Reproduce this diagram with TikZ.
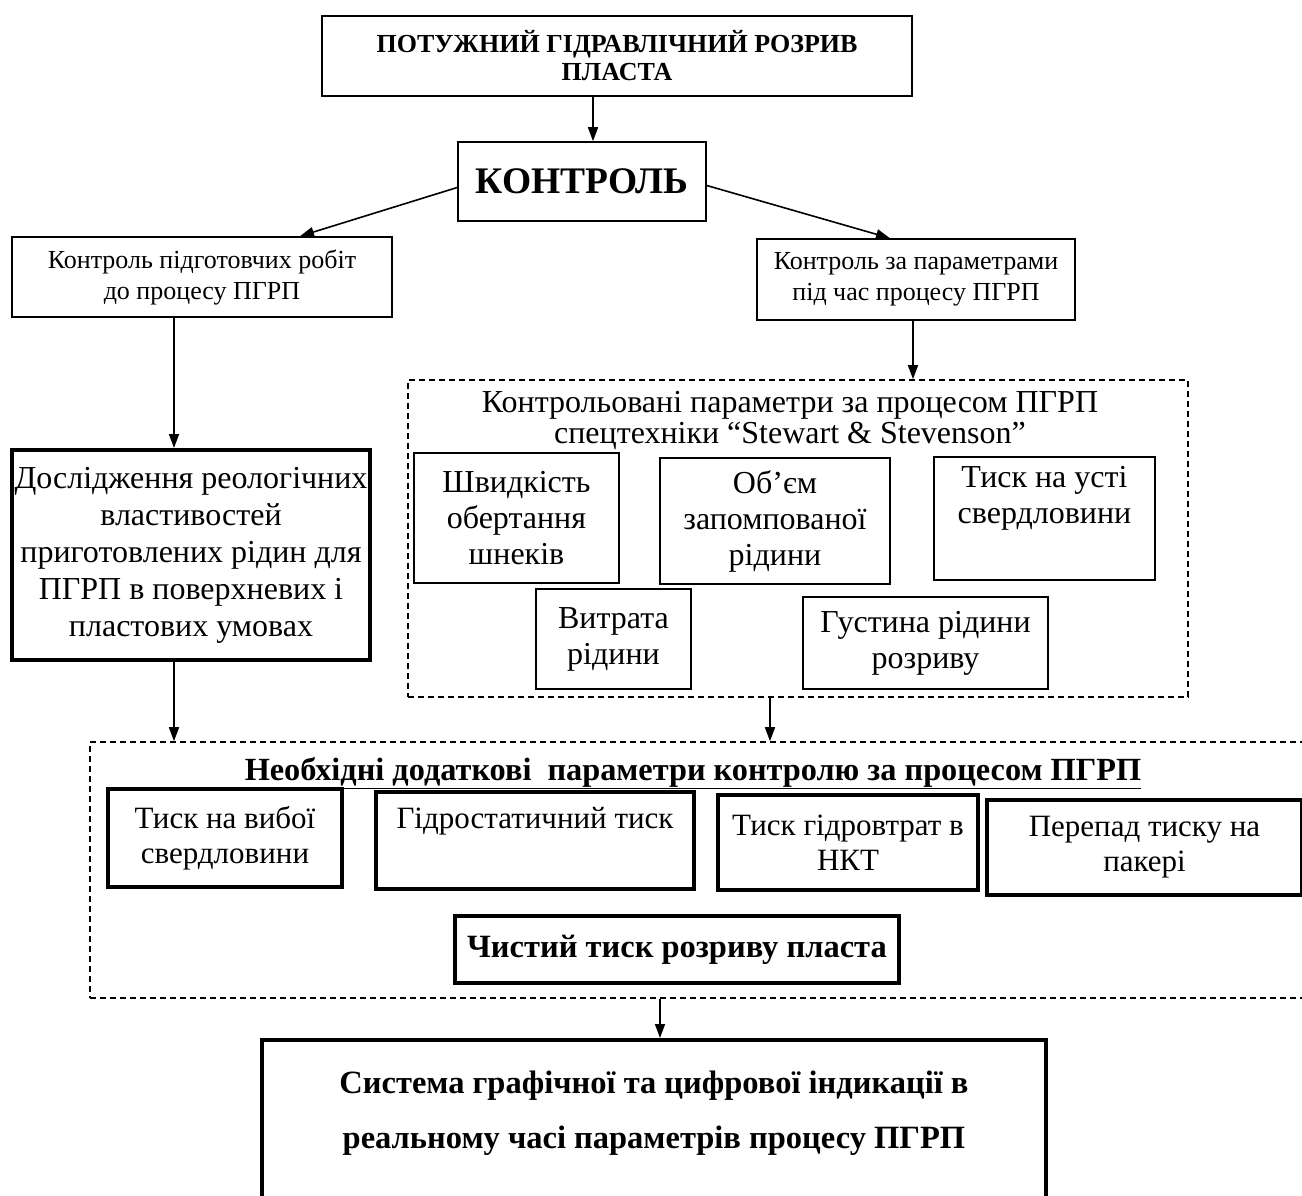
\documentclass[tikz,border=0pt]{standalone}
\usepackage{fontspec}
\setmainfont{Liberation Serif}
\usetikzlibrary{arrows.meta}
\begin{document}
\begin{tikzpicture}[x=1pt,y=-1pt,
  box/.style={draw,line width=1.6pt,align=center,inner sep=0pt},
  tbox/.style={box,line width=4pt},
  mbox/.style={box,line width=2.2pt},
  dbox/.style={draw,line width=1.6pt,dash pattern=on 6pt off 4pt,inner sep=0pt},
  txt/.style={align=center,inner sep=0pt},
  arr/.style={line width=1.6pt,-{Triangle[length=14pt,width=10pt]}},
  fA/.style={font=\fontsize{26}{28}\selectfont\bfseries},
  fK/.style={font=\fontsize{37.5}{40}\selectfont\bfseries},
  fS/.style={font=\fontsize{26}{31}\selectfont},
  fR/.style={font=\fontsize{32}{37}\selectfont},
  fT/.style={font=\fontsize{32}{31}\selectfont},
  fI/.style={font=\fontsize{32}{36}\selectfont},
  fB/.style={font=\fontsize{32.3}{35}\selectfont\bfseries},
  fC/.style={font=\fontsize{32.5}{35}\selectfont\bfseries},
  fD/.style={font=\fontsize{31}{35}\selectfont},
  fE/.style={font=\fontsize{32.5}{55}\selectfont\bfseries}]
\useasboundingbox (0,0) rectangle (1302,1196);
\clip (0,0) rectangle (1302,1196);
\fill[white] (0,0) rectangle (1302,1196);

% top
\node[box,fA,minimum width=590,minimum height=80] (top) at (617,56)
  {ПОТУЖНИЙ ГІДРАВЛІЧНИЙ РОЗРИВ\\ПЛАСТА};
\node[box,fK,minimum width=248,minimum height=79] (kon) at (582,181.5) {КОНТРОЛЬ};
\node[box,fS,minimum width=380,minimum height=80] (lft) at (202,277)
  {Контроль підготовчих робіт\\до процесу ПГРП};
\node[box,fS,minimum width=318,minimum height=81] (rgt) at (916,279.5)
  {Контроль за параметрами\\під час процесу ПГРП};
\node[tbox,fR,minimum width=358,minimum height=210] (res) at (191,555)
  {Дослідження реологічних\\властивостей\\приготовлених рідин для\\ПГРП в поверхневих і\\пластових умовах};

% dashed box 1
\node[dbox,minimum width=780,minimum height=317] (d1) at (798,538.5) {};
\node[txt,fT] (d1t) at (790,420)
  {Контрольовані параметри за процесом ПГРП\\спецтехніки “Stewart \& Stevenson”};
\node[mbox,fI,minimum width=205,minimum height=130] (sw) at (516.5,518)
  {Швидкість\\обертання\\шнеків};
\node[mbox,fI,minimum width=230,minimum height=126] (ob) at (775,521)
  {Об’єм\\запомпованої\\рідини};
\node[mbox,fI,minimum width=221,minimum height=123] (ty) at (1044.5,518.5)
  {Тиск на усті\\свердловини\\\strut};
\node[mbox,fI,minimum width=155,minimum height=100] (vy) at (613.5,639)
  {Витрата\\рідини};
\node[mbox,fI,minimum width=245,minimum height=92] (gu) at (925.5,643)
  {Густина рідини\\розриву};

% dashed box 2
\node[dbox,minimum width=1240,minimum height=256] (d2) at (710,870) {};
\node[txt,fB] (d2t) at (693,773)
  {\underline{Необхідні додаткові\ \ параметри контролю за процесом ПГРП}};
\node[tbox,fD,minimum width=234,minimum height=98] (tv) at (225,838)
  {Тиск на вибої\\свердловини};
\node[tbox,fD,minimum width=318,minimum height=97] (gi) at (535,840.5)
  {Гідростатичний тиск\\\strut};
\node[tbox,fD,minimum width=260,minimum height=95] (tg) at (848,842.5)
  {Тиск гідровтрат в\\НКТ};
\node[tbox,fD,minimum width=315,minimum height=95] (pp) at (1144.5,847.5)
  {Перепад тиску на\\пакері};
\node[tbox,fC,minimum width=444,minimum height=67] (ch) at (677,949.5)
  {Чистий тиск розриву пласта};

% bottom
\node[tbox,minimum width=784,minimum height=190] (bot) at (654,1135) {};
\node[txt,fE] (bott) at (654,1113)
  {Система графічної та цифрової індикації в\\реальному часі параметрів процесу ПГРП};

% arrows
\draw[arr] ([xshift=-24pt]top.south) -- ([xshift=11pt]kon.north);
\draw[arr] ([yshift=-6pt]kon.west) -- ([xshift=98pt]lft.north);
\draw[arr] ([yshift=-4pt]kon.east) -- ([xshift=-26pt]rgt.north);
\draw[arr] ([xshift=-28pt]lft.south) -- ([xshift=-17pt]res.north);
\draw[arr] ([xshift=-3pt]rgt.south) -- ([xshift=-3pt]rgt.south |- d1.north);
\draw[arr] ([xshift=-17pt]res.south) -- ([xshift=-17pt]res.south |- d2.north);
\draw[arr] ([xshift=-28pt]d1.south) -- ([xshift=-28pt]d1.south |- d2.north);
\draw[arr] ([xshift=6pt]bot.north |- d2.south) -- ([xshift=6pt]bot.north);
\end{tikzpicture}
\end{document}
